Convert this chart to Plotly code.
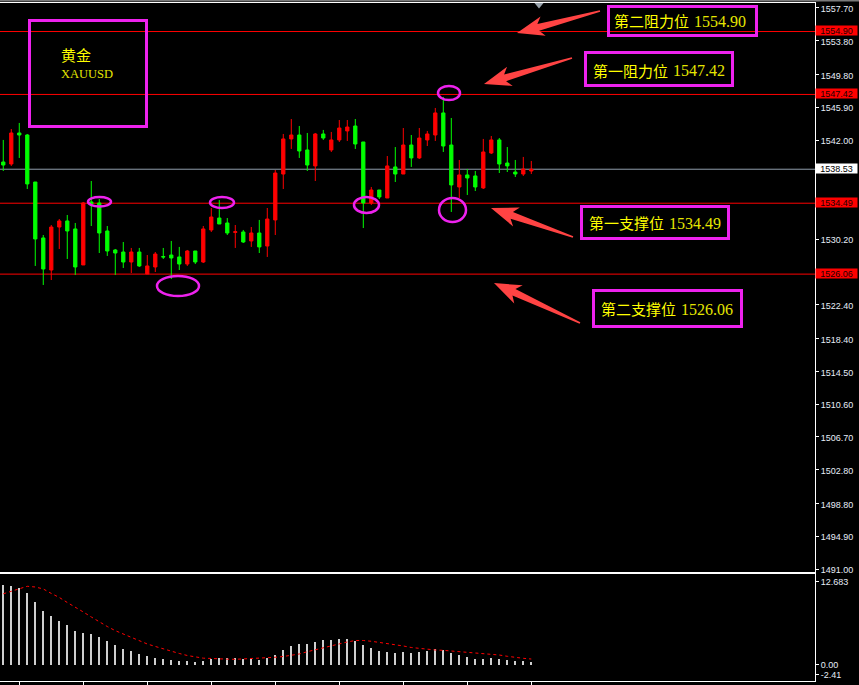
import math
import plotly.graph_objects as go

# ---------------- data ----------------
bar_index = list(range(67))

opens = [1539.39, 1539.15, 1542.84, 1542.60, 1537.01, 1530.36, 1526.55, 1531.66, 1532.38, 1531.43,
         1527.15, 1534.64, 1534.52, 1531.19, 1528.93, 1528.69, 1527.50, 1528.69, 1526.08, 1526.91,
         1528.15, 1528.33, 1528.10, 1527.26, 1528.81, 1527.50, 1531.31, 1532.73, 1532.14, 1531.02,
         1531.07, 1530.00, 1530.95, 1529.40, 1532.50, 1537.96, 1542.13, 1542.60, 1540.82, 1538.92,
         1542.72, 1540.82, 1542.01, 1543.08, 1543.67, 1541.77, 1534.52, 1536.06, 1535.11, 1538.80,
         1537.96, 1541.41, 1539.87, 1542.01, 1542.60, 1545.22, 1541.41, 1536.42, 1537.85, 1537.73,
         1536.30, 1540.46, 1542.01, 1539.27, 1538.20, 1537.96, 1538.32]

highs = [1542.01, 1543.31, 1544.03, 1542.72, 1537.01, 1530.71, 1531.90, 1532.61, 1533.09, 1532.14,
         1534.64, 1537.13, 1534.99, 1531.78, 1529.05, 1529.88, 1529.17, 1529.17, 1528.33, 1528.69,
         1529.17, 1530.00, 1529.29, 1528.93, 1528.81, 1531.78, 1533.92, 1534.87, 1532.73, 1531.90,
         1531.31, 1531.66, 1532.50, 1533.92, 1538.44, 1542.72, 1544.50, 1543.67, 1542.84, 1542.84,
         1543.20, 1542.96, 1544.38, 1544.38, 1544.50, 1541.77, 1536.42, 1536.06, 1540.10, 1541.17,
         1543.43, 1542.60, 1543.43, 1543.08, 1545.81, 1547.12, 1544.62, 1539.63, 1538.56, 1538.32,
         1542.13, 1542.48, 1542.24, 1541.17, 1539.63, 1539.99, 1539.51]

lows = [1538.32, 1538.92, 1539.87, 1536.18, 1527.03, 1524.77, 1525.36, 1529.05, 1527.86, 1525.96,
        1527.15, 1531.78, 1528.57, 1528.22, 1525.96, 1526.79, 1526.19, 1526.91, 1526.08, 1526.31,
        1527.86, 1525.48, 1526.55, 1527.03, 1527.26, 1527.38, 1531.07, 1532.02, 1530.71, 1529.17,
        1529.76, 1529.29, 1528.57, 1528.10, 1530.71, 1536.18, 1540.94, 1539.87, 1538.32, 1537.13,
        1542.01, 1540.58, 1541.77, 1541.89, 1540.94, 1531.54, 1534.28, 1534.99, 1535.11, 1537.01,
        1537.96, 1538.80, 1539.75, 1541.29, 1541.89, 1540.58, 1533.45, 1535.11, 1535.47, 1535.94,
        1536.18, 1540.34, 1538.08, 1538.20, 1537.61, 1537.73, 1537.96]

closes = [1539.03, 1542.84, 1542.60, 1536.78, 1530.24, 1526.67, 1531.66, 1532.38, 1531.19, 1526.91,
          1534.52, 1534.40, 1530.95, 1528.81, 1528.57, 1527.50, 1528.69, 1527.03, 1527.03, 1528.45,
          1528.10, 1527.98, 1527.26, 1528.81, 1527.50, 1531.43, 1532.85, 1532.02, 1530.95, 1531.10,
          1529.88, 1530.95, 1529.29, 1532.61, 1538.08, 1542.13, 1542.60, 1540.70, 1539.03, 1542.72,
          1542.24, 1542.01, 1543.43, 1543.55, 1541.53, 1534.52, 1536.06, 1535.23, 1538.92, 1537.96,
          1541.41, 1539.87, 1542.24, 1542.72, 1545.22, 1541.29, 1536.66, 1537.85, 1537.49, 1536.42,
          1540.58, 1542.01, 1539.15, 1538.92, 1537.96, 1538.56, 1538.53]

macd_main = [11.40, 11.25, 10.93, 10.26, 8.97, 7.69, 6.98, 6.27, 5.70, 4.84,
             4.56, 4.42, 3.99, 3.42, 2.85, 2.28, 1.99, 1.57, 1.28, 1.00,
             0.85, 0.71, 0.57, 0.57, 0.43, 0.57, 0.85, 1.00, 1.00, 1.00,
             0.85, 0.85, 0.71, 1.00, 1.42, 2.14, 2.71, 2.99, 2.99, 3.28,
             3.56, 3.56, 3.70, 3.70, 3.42, 2.85, 2.42, 1.99, 1.85, 1.71,
             1.85, 1.71, 1.85, 2.05, 2.28, 2.14, 1.71, 1.42, 1.14, 0.85,
             0.85, 1.00, 0.85, 0.71, 0.57, 0.57, 0.43]

macd_signal = [10.14, 10.47, 10.90, 11.21, 11.11, 10.83, 10.19, 9.62, 8.90, 8.26,
               7.55, 6.84, 6.13, 5.48, 4.89, 4.42, 3.92, 3.49, 2.99, 2.64,
               2.28, 1.99, 1.64, 1.35, 1.14, 0.97, 0.93, 0.85, 0.83, 0.81,
               0.85, 0.93, 0.95, 1.00, 1.10, 1.21, 1.35, 1.57, 1.89, 2.18,
               2.46, 2.71, 3.06, 3.28, 3.49, 3.49, 3.38, 3.21, 3.13, 2.92,
               2.71, 2.49, 2.35, 2.18, 2.14, 2.09, 1.99, 1.92, 1.85, 1.75,
               1.67, 1.52, 1.42, 1.24, 1.07, 0.95, 0.85]

price_ticks = [1557.70, 1553.80, 1549.80, 1545.90, 1542.00, 1538.10, 1534.10, 1530.20, 1526.30,
               1522.40, 1518.40, 1514.50, 1510.60, 1506.70, 1502.80, 1498.80, 1494.90, 1491.00]
# scale values that sit underneath the price tags keep their tick mark only
covered_ticks = [1538.10, 1534.10, 1526.30]
price_tick_text = ["" if v in covered_ticks else f"{v:.2f}" for v in price_ticks]

resistance_levels = [1554.90, 1547.42]
support_levels = [1534.49, 1526.06]
resistance_names = ["第二阻力位", "第一阻力位"]
support_names = ["第一支撑位", "第二支撑位"]
last_price = 1538.53

osc_tick_vals = [11.87, 0.0, -1.38]
osc_tick_text = ["12.683", "0.00", "-2.41"]
bottom_tick_bars = [2, 10, 18, 26, 34, 42, 50, 58, 66]

# ---------------- page geometry helpers ----------------
W, H = 859, 685
PL, PR, PT, PB = 0, 815, 3, 681


def px(x):
    return (x - PL) / (PR - PL)


def py(y):
    return (PB - y) / (PB - PT)


MAGENTA = "#ee22ee"
ARROW_RED = "#ff4343"
YELLOW = "#ffff00"
DIGIT_YELLOW = "#e6e600"

fig = go.Figure()

fig.add_trace(go.Candlestick(
    x=bar_index, open=opens, high=highs, low=lows, close=closes,
    xaxis="x", yaxis="y",
    increasing=dict(line=dict(color="#ff0000", width=1), fillcolor="#ff0000"),
    decreasing=dict(line=dict(color="#00ff00", width=1), fillcolor="#00ff00"),
    whiskerwidth=0, hoverinfo="skip", showlegend=False,
))

fig.add_trace(go.Bar(
    x=bar_index, y=macd_main, xaxis="x2", yaxis="y2", width=0.14,
    marker=dict(color="#cfcfcf", line=dict(width=0)), hoverinfo="skip", showlegend=False,
))

fig.add_trace(go.Scatter(
    x=bar_index, y=macd_signal, xaxis="x2", yaxis="y2", mode="lines",
    line=dict(color="#ff0000", width=1, dash="3px,3px"), hoverinfo="skip", showlegend=False,
))

shapes = []
annotations = []

# horizontal price levels
for lvl in resistance_levels + support_levels:
    shapes.append(dict(type="line", xref="paper", yref="y", x0=0, x1=1, y0=lvl, y1=lvl,
                       line=dict(color="#ff0000", width=1), layer="below"))
shapes.append(dict(type="line", xref="paper", yref="y", x0=0, x1=1, y0=last_price, y1=last_price,
                   line=dict(color="#8f9dab", width=1), layer="below"))

# price tags on the right scale
tag_font = dict(family="Liberation Sans", size=9)
for lvl in resistance_levels + support_levels:
    annotations.append(dict(xref="paper", yref="y", x=px(836.5), y=lvl, xanchor="center",
                            yanchor="middle", yshift=1, text=f"{lvl:.2f}", showarrow=False,
                            width=41, height=9, bgcolor="#ff0000", borderpad=0,
                            font=dict(tag_font, color="#1a0000")))
annotations.append(dict(xref="paper", yref="y", x=px(836.5), y=last_price, xanchor="center",
                        yanchor="middle", yshift=1, text=f"{last_price:.2f}", showarrow=False,
                        width=41, height=9, bgcolor="#ffffff", borderpad=0,
                        font=dict(tag_font, color="#000000")))

# window edge line and chart-shift marker
shapes.append(dict(type="line", xref="paper", yref="paper", x0=px(0), x1=px(859), y0=py(0.8), y1=py(0.8),
                   line=dict(color="#7a7a7a", width=1.5)))
shapes.append(dict(type="path", xref="paper", yref="paper",
                   path=f"M {px(534.5)},{py(3)} L {px(543.5)},{py(3)} L {px(539)},{py(8.5)} Z",
                   fillcolor="#9aa4ad", line=dict(width=0)))

# title box
shapes.append(dict(type="rect", xref="paper", yref="paper", x0=px(29.5), x1=px(146.5),
                   y0=py(20.5), y1=py(126.5), line=dict(color=MAGENTA, width=3)))
annotations.append(dict(xref="paper", yref="paper", x=px(59), y=py(54.5), xanchor="left", yanchor="middle",
                        text="黄金", showarrow=False,
                        font=dict(family="Noto Sans CJK SC", size=15, color=YELLOW)))
annotations.append(dict(xref="paper", yref="paper", x=px(59), y=py(74.5), xanchor="left", yanchor="middle",
                        text="XAUUSD", showarrow=False,
                        font=dict(family="Liberation Serif", size=12.5, color=DIGIT_YELLOW)))

# callout boxes: (name, level, box left/right/top/bottom, text left, text centre y)
callouts = [
    (resistance_names[0], resistance_levels[0], 608.5, 756.5, 6.5, 35.5, 612, 20.5),
    (resistance_names[1], resistance_levels[1], 585.5, 732.5, 52.5, 85.5, 591, 70.5),
    (support_names[0], support_levels[0], 581.5, 728.5, 206.5, 238.5, 587, 222.5),
    (support_names[1], support_levels[1], 593.5, 741.5, 290.5, 326.5, 599, 308.5),
]
for name, lvl, x0, x1, y0, y1, tx, ty in callouts:
    shapes.append(dict(type="rect", xref="paper", yref="paper", x0=px(x0), x1=px(x1),
                       y0=py(y0), y1=py(y1), line=dict(color=MAGENTA, width=3)))
    annotations.append(dict(xref="paper", yref="paper", x=px(tx), y=py(ty), xanchor="left",
                            yanchor="middle", text=name, showarrow=False,
                            font=dict(family="Noto Sans CJK SC", size=15, color=YELLOW)))
    annotations.append(dict(xref="paper", yref="paper", x=px(tx + 80), y=py(ty + 0.5), xanchor="left",
                            yanchor="middle", text=f"{lvl:.2f}", showarrow=False,
                            font=dict(family="Liberation Serif", size=16, color=DIGIT_YELLOW)))


def arrow_path(tail, tip, head_len=22, head_half=10, shaft_half=3.5, tail_half=0.8, sweep=5):
    tx, ty = tail
    hx, hy = tip
    dx, dy = hx - tx, hy - ty
    ln = math.hypot(dx, dy)
    ux, uy = dx / ln, dy / ln
    nx, ny = -uy, ux
    bx, by = hx - ux * head_len, hy - uy * head_len
    pts = [
        (tx + nx * tail_half, ty + ny * tail_half),
        (bx + nx * shaft_half, by + ny * shaft_half),
        (bx - ux * sweep + nx * head_half, by - uy * sweep + ny * head_half),
        (hx, hy),
        (bx - ux * sweep - nx * head_half, by - uy * sweep - ny * head_half),
        (bx - nx * shaft_half, by - ny * shaft_half),
        (tx - nx * tail_half, ty - ny * tail_half),
    ]
    return "M " + " L ".join(f"{px(x):.5f},{py(y):.5f}" for x, y in pts) + " Z"


for tail, tip in [((600, 11), (517, 33)), ((572, 58), (484, 84)),
                  ((573, 237), (491, 208)), ((580, 323), (494, 283))]:
    shapes.append(dict(type="path", xref="paper", yref="paper", path=arrow_path(tail, tip),
                       fillcolor=ARROW_RED, line=dict(width=0)))

# highlight rings around touches of the levels
for x0, x1, y0, y1 in [(88, 111, 197, 206.5), (210, 234, 197, 208), (157, 199, 276, 296),
                       (354, 379, 197, 213), (438, 460, 86, 100), (439, 466, 198, 222)]:
    shapes.append(dict(type="circle", xref="paper", yref="paper", x0=px(x0), x1=px(x1),
                       y0=py(y1), y1=py(y0), line=dict(color=MAGENTA, width=2.5)))

axis_font = dict(family="Liberation Sans", size=9, color="#e6edf7")

fig.update_layout(
    width=W, height=H,
    margin=dict(l=PL, r=W - PR, t=PT, b=H - PB, pad=0),
    paper_bgcolor="#000000", plot_bgcolor="#000000",
    showlegend=False, boxgap=0.42, bargap=0,
    xaxis=dict(domain=[0, 1], anchor="y", range=[-0.41, 101.46], showgrid=False, zeroline=False,
               showticklabels=False, ticks="", showline=True, linecolor="#ffffff", linewidth=1,
               mirror=True, rangeslider=dict(visible=False), fixedrange=True),
    yaxis=dict(domain=[(PB - 572) / (PB - PT), 1], anchor="x", side="right",
               range=[1490.65, 1558.29], tickmode="array", tickvals=price_ticks,
               ticktext=price_tick_text, ticks="outside", ticklen=3, tickcolor="#ffffff",
               ticklabelshift=1,
               showline=True, linecolor="#ffffff", linewidth=1, showgrid=False, zeroline=False,
               tickfont=axis_font, fixedrange=True),
    xaxis2=dict(domain=[0, 1], anchor="y2", matches="x", showgrid=False, zeroline=False,
                showticklabels=False, tickmode="array", tickvals=bottom_tick_bars, ticks="outside",
                ticklen=4, tickcolor="#ffffff", showline=True, linecolor="#ffffff", linewidth=1,
                mirror=True, fixedrange=True),
    yaxis2=dict(domain=[0, (PB - 574) / (PB - PT)], anchor="x2", side="right",
                range=[-2.28, 12.96], tickmode="array", tickvals=osc_tick_vals,
                ticktext=osc_tick_text, ticks="outside", ticklen=3, tickcolor="#ffffff",
                showline=True, linecolor="#ffffff", linewidth=1, showgrid=False, zeroline=False,
                tickfont=axis_font, fixedrange=True),
    shapes=shapes,
    annotations=annotations,
)

fig.write_html("out.html", config={"displayModeBar": False})
